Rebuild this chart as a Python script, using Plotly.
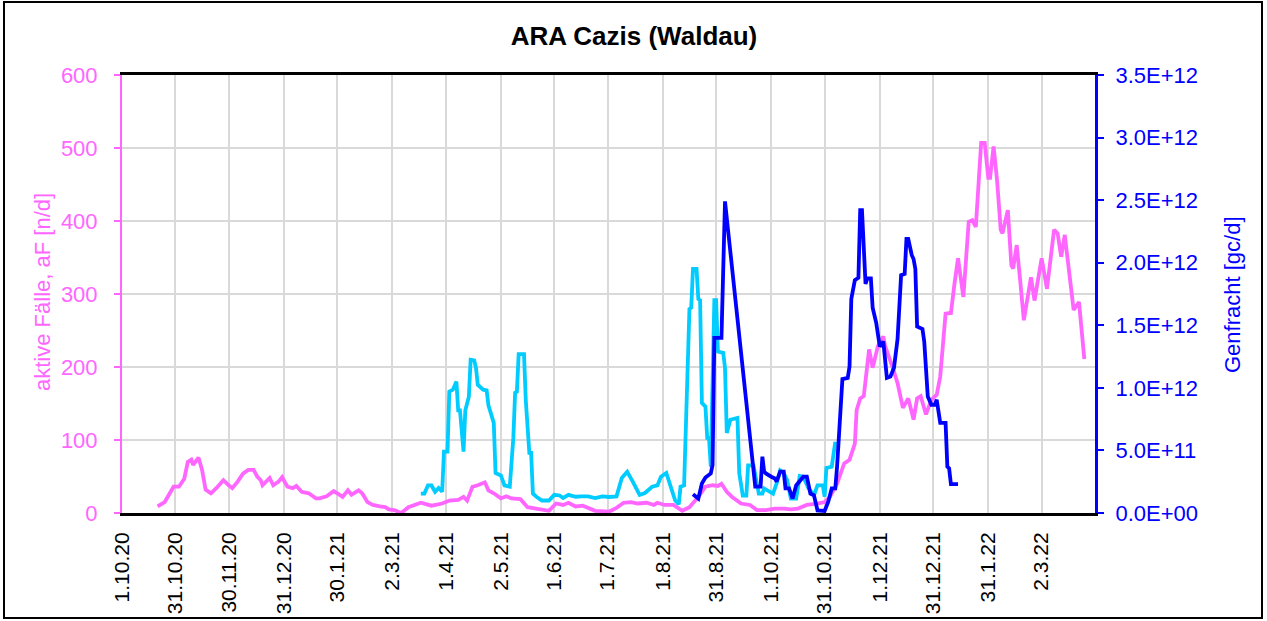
import pandas as pd
import plotly.graph_objects as go

# ---------------- data ----------------
START = "2020-10-01"

# active cases (left axis), day offset from 1.10.20
pink_day = [20, 24, 29, 32, 35, 37, 39, 40, 43, 45, 47, 50, 53, 57, 60, 62, 65, 68, 71, 74,
            76, 78, 79, 83, 85, 88, 90, 93, 96, 98, 101, 105, 109, 111, 115, 119, 121, 124, 127, 129,
            133, 135, 138, 141, 145, 148, 150, 153, 157, 161, 168, 174, 180, 184, 189, 192, 194, 197, 200, 204,
            206, 209, 213, 216, 219, 224, 228, 234, 240, 244, 248, 251, 255, 259, 266, 274, 278, 282, 286, 290,
            295, 299, 301, 305, 310, 315, 319, 324, 328, 332, 335, 337, 340, 343, 348, 353, 357, 362, 367, 372,
            376, 380, 385, 391, 395, 398, 402, 406, 409, 412, 413, 415, 417, 420, 422, 425, 428, 429, 431, 433,
            436, 439, 442, 445, 447, 449, 452, 455, 458, 460, 463, 466, 468, 470, 473, 474, 476, 478, 480, 483,
            485, 487, 488, 490, 492, 494, 495, 498, 500, 501, 503, 505, 507, 511, 513, 517, 520, 524, 526, 528,
            530, 535, 538, 541]
pink_val = [9, 15, 36, 36, 47, 70, 73, 66, 76, 59, 32, 27, 34, 45, 38, 34, 43, 54, 59, 59,
            50, 45, 38, 48, 38, 43, 49, 36, 34, 37, 29, 27, 20, 20, 23, 30, 27, 22, 31, 25,
            31, 27, 15, 11, 9, 8, 5, 4, 0, 8, 14, 10, 13, 17, 18, 22, 17, 36, 38, 42,
            31, 27, 20, 23, 20, 19, 8, 6, 3, 13, 11, 14, 9, 10, 3, 2, 7, 14, 15, 13,
            14, 11, 14, 11, 11, 3, 8, 22, 36, 38, 37, 40, 29, 22, 13, 11, 4, 4, 6, 6,
            5, 6, 11, 13, 15, 22, 40, 68, 73, 95, 141, 157, 160, 224, 199, 229, 242, 229, 213, 201,
            178, 144, 157, 128, 157, 160, 135, 155, 162, 187, 273, 274, 314, 349, 296, 328, 399, 401, 392, 507,
            507, 459, 459, 502, 454, 388, 383, 415, 339, 335, 367, 317, 264, 323, 291, 349, 307, 388, 383, 351,
            381, 278, 289, 211]

# gene load, light blue series (right axis), in units of 1e11 gc/d
cyan_day = [168, 170, 172, 174, 176, 178, 180, 181, 183, 184, 186, 188, 189, 190, 192, 193, 195, 196, 198, 199,
            200, 203, 205, 206, 209, 210, 213, 215, 218, 220, 221, 222, 223, 226, 227, 229, 230, 231, 233, 236,
            240, 243, 246, 248, 251, 255, 258, 262, 266, 270, 274, 278, 281, 284, 287, 291, 294, 298, 301, 303,
            306, 309, 311, 313, 314, 316, 317, 319, 320, 321, 323, 324, 325, 326, 328, 329, 330, 331, 333, 334,
            335, 338, 339, 340, 342, 346, 347, 349, 351, 352, 355, 358, 360, 361, 366, 368, 370, 372, 374, 376,
            379, 381, 383, 386, 389, 391, 394, 395, 396, 399, 401]
cyan_e11 = [1.55, 1.55, 2.2, 2.2, 1.7, 2.0, 1.7, 4.9, 4.9, 9.7, 9.85, 10.5, 8.2, 8.2, 4.9, 8.2, 9.3, 12.25, 12.2, 11.6,
            10.25, 9.85, 9.8, 8.6, 7.2, 3.2, 3.0, 2.2, 2.1, 6.0, 9.6, 9.7, 12.7, 12.7, 9.0, 4.8, 4.8, 1.55, 1.3, 1.0,
            1.0, 1.45, 1.4, 1.2, 1.45, 1.3, 1.33, 1.33, 1.2, 1.33, 1.28, 1.33, 2.8, 3.3, 2.55, 1.45, 1.6, 2.1, 2.2, 2.9,
            3.2, 2.0, 1.0, 0.7, 2.1, 2.2, 6.8, 16.3, 16.4, 19.5, 19.5, 17.1, 17.0, 8.8, 8.5, 6.0, 6.0, 3.7, 17.0, 17.0,
            12.9, 12.8, 11.6, 6.4, 7.45, 7.6, 3.2, 1.4, 1.4, 3.8, 3.8, 1.55, 1.55, 1.96, 1.55, 2.36, 3.4, 3.2, 2.6, 1.15,
            1.15, 2.95, 2.9, 1.96, 1.42, 2.2, 2.2, 1.3, 3.6, 3.7, 5.7]

# gene load, dark blue series (right axis), in units of 1e11 gc/d
blue_day = [321, 324, 326, 328, 331, 332, 333, 337, 339, 356, 359, 360, 361, 362, 365, 367, 368, 370, 372, 373,
            375, 377, 379, 381, 383, 385, 387, 389, 391, 395, 397, 399, 401, 402, 404, 405, 408, 409, 410, 412,
            414, 415, 416, 418, 419, 421, 422, 424, 426, 428, 430, 432, 434, 436, 438, 440, 441, 442, 444, 445,
            446, 447, 450, 451, 453, 455, 457, 458, 460, 463, 464, 465, 466, 470]
blue_e11 = [1.5, 1.15, 2.36, 2.84, 3.16, 3.83, 14.0, 14.0, 24.9, 2.1, 2.1, 4.5, 3.3, 3.16, 2.9, 2.76, 2.5, 3.3, 3.3, 1.96,
            1.96, 1.15, 2.2, 2.6, 2.9, 2.9, 1.55, 1.42, 0.21, 0.16, 0.88, 1.96, 1.96, 3.7, 8.0, 10.7, 10.8, 11.7, 17.1, 18.6,
            18.8, 24.2, 24.2, 18.3, 18.75, 18.75, 16.4, 15.2, 13.3, 13.7, 10.8, 10.9, 11.6, 13.9, 19.0, 19.1, 21.9, 21.9, 20.6, 20.3,
            19.5, 14.9, 14.7, 13.7, 9.3, 8.65, 8.65, 9.05, 7.2, 7.2, 3.7, 3.56, 2.3, 2.3]

# axis ticks
x_tick_dates = ["2020-10-01", "2020-10-31", "2020-11-30", "2020-12-31", "2021-01-30", "2021-03-02",
                "2021-04-01", "2021-05-02", "2021-06-01", "2021-07-01", "2021-08-01", "2021-08-31",
                "2021-10-01", "2021-10-31", "2021-12-01", "2021-12-31", "2022-01-31", "2022-03-02"]
x_tick_labels = ["1.10.20", "31.10.20", "30.11.20", "31.12.20", "30.1.21", "2.3.21",
                 "1.4.21", "2.5.21", "1.6.21", "1.7.21", "1.8.21", "31.8.21",
                 "1.10.21", "31.10.21", "1.12.21", "31.12.21", "31.1.22", "2.3.22"]
left_ticks = [0, 100, 200, 300, 400, 500, 600]
right_tick_vals = [0, 5e11, 1e12, 1.5e12, 2e12, 2.5e12, 3e12, 3.5e12]
right_tick_labels = ["0.0E+00", "5.0E+11", "1.0E+12", "1.5E+12", "2.0E+12", "2.5E+12", "3.0E+12", "3.5E+12"]

# ---------------- styling ----------------
FONT = "Arial, Liberation Sans, sans-serif"
PINK = "#FF66FF"
CYAN = "#00CCFF"
BLUE = "#0000FF"
GRID = "#D9D9D9"

start = pd.Timestamp(START)
to_dates = lambda days: [start + pd.Timedelta(days=d) for d in days]

fig = go.Figure()
fig.add_trace(go.Scatter(x=to_dates(pink_day), y=pink_val, mode="lines",
                         line=dict(color=PINK, width=3.8), yaxis="y", name="aktive Fälle"))
fig.add_trace(go.Scatter(x=to_dates(cyan_day), y=[v * 1e11 for v in cyan_e11], mode="lines",
                         line=dict(color=CYAN, width=3.8), yaxis="y2", name="Genfracht 1"))
fig.add_trace(go.Scatter(x=to_dates(blue_day), y=[v * 1e11 for v in blue_e11], mode="lines",
                         line=dict(color=BLUE, width=3.8), yaxis="y2", name="Genfracht 2"))

W, H = 1267, 621
L, R, T, B = 122, 1095, 75, 513
pw, ph = R - L, B - T
px = lambda x: (x - L) / pw
py = lambda y: (B - y) / ph

fig.update_layout(
    width=W, height=H,
    margin=dict(l=L, r=W - R, t=T, b=H - B, pad=0, autoexpand=False),
    paper_bgcolor="white", plot_bgcolor="white",
    showlegend=False,
    font=dict(family=FONT, size=22, color="black"),
    title=dict(text="<b>ARA Cazis (Waldau)</b>", x=634 / W, xref="container", xanchor="center",
               y=1 - 36 / H, yref="container", yanchor="middle",
               font=dict(family=FONT, size=26, color="black")),
    xaxis=dict(type="date", range=["2020-10-01", "2022-04-01"],
               tickvals=x_tick_dates, ticktext=x_tick_labels, tickangle=-90,
               tickfont=dict(family=FONT, size=21, color="black"),
               ticks="", ticklabelstandoff=8, automargin=False,
               showgrid=True, gridcolor=GRID, gridwidth=2,
               showline=True, linecolor="black", linewidth=3, mirror=True,
               zeroline=False),
    yaxis=dict(range=[0, 600], tickvals=left_ticks, automargin=False,
               tickfont=dict(family=FONT, size=22, color=PINK),
               ticks="outside", ticklen=6, tickwidth=2, tickcolor=PINK, ticklabelstandoff=12,
               showgrid=True, gridcolor=GRID, gridwidth=2,
               showline=True, linecolor=PINK, linewidth=2, zeroline=False),
    yaxis2=dict(range=[0, 3.5e12], overlaying="y", side="right", automargin=False,
                tickvals=right_tick_vals, ticktext=right_tick_labels,
                tickfont=dict(family=FONT, size=22, color=BLUE),
                ticks="outside", ticklen=6, tickwidth=2, tickcolor=BLUE, ticklabelstandoff=7,
                showgrid=False, showline=True, linecolor=BLUE, linewidth=3, zeroline=False),
    annotations=[
        dict(text="aktive Fälle, aF [n/d]", xref="paper", yref="paper",
             x=px(42), y=py(292), textangle=-90, showarrow=False,
             xanchor="center", yanchor="middle",
             font=dict(family=FONT, size=22, color=PINK)),
        dict(text="Genfracht [gc/d]", xref="paper", yref="paper",
             x=px(1232), y=py(295), textangle=-90, showarrow=False,
             xanchor="center", yanchor="middle",
             font=dict(family=FONT, size=22, color=BLUE)),
    ],
    shapes=[dict(type="rect", xref="paper", yref="paper",
                 x0=px(4), x1=px(1262), y0=py(618), y1=py(2),
                 line=dict(color="black", width=2), fillcolor="rgba(0,0,0,0)", layer="above")],
)

# remove the browser's default page margin so the figure sits at the page origin
fig.write_html("out.html", config={"displayModeBar": False},
               post_script="document.body.style.margin='0';")
